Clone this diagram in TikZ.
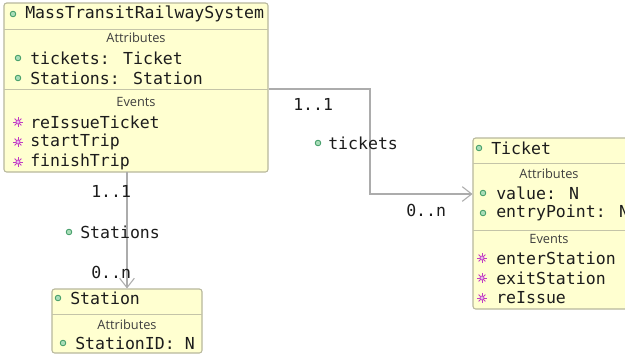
\documentclass[tikz,border=0pt]{standalone}
\usepackage{fontspec}
\setmainfont{DejaVu Sans Mono}
\newfontfamily\secfont{Open Sans}
\usetikzlibrary{fit,arrows.meta}

\definecolor{boxfill}{HTML}{FFFFD0}
\definecolor{boxline}{HTML}{B8B89C}
\definecolor{sepcol}{HTML}{C4C4A8}
\definecolor{dotline}{HTML}{3E9A64}
\definecolor{dotfill}{HTML}{A8DDB8}
\definecolor{evtcol}{HTML}{C23CC2}
\definecolor{assoccol}{HTML}{ACACAC}
\definecolor{txt}{HTML}{1C1C1C}

\tikzset{
  classbox/.style={draw=boxline, fill=boxfill, rounded corners=2pt, inner sep=0pt, line width=0.8pt},
  member/.style={anchor=west, inner sep=0pt, text=txt, font=\fontsize{12.4}{14}\selectfont},
  seclabel/.style={inner sep=0pt, text=txt!85, font=\secfont\fontsize{9.6}{11}\selectfont},
  sepline/.style={draw=sepcol, line width=0.7pt},
  assoc/.style={draw=assoccol, line width=0.8pt, -{Straight Barb[length=7pt,width=11pt]}},
  pics/attrdot/.style={code={\draw[dotline, fill=dotfill, line width=0.6pt] (0,0) circle (2.1pt);}},
  pics/evtmark/.style={code={
    \foreach \a in {0,45,90,135}
      \draw[evtcol, line width=0.7pt] (\a:3.6pt) -- (\a+180:3.6pt);
    \draw[evtcol, fill=evtcol!35, line width=0.5pt] (0,0) circle (1.5pt);}}
}

\begin{document}
\begin{tikzpicture}[x=0.75pt, y=-0.75pt]
\clip (0,0) rectangle (625,354);
\useasboundingbox (0,0) rectangle (625,354);
\fill[white] (0,0) rectangle (625,354);

% ---- MassTransitRailwaySystem ----
\node[classbox, fit={(4,3) (268,172)}] (mtrs) {};
\draw[sepline] (4,29) -- (268,29);
\draw[sepline] (4,89) -- (268,89);
\pic at (13,14) {attrdot};
\node[member] (mtrsname) at (25,14) {MassTransitRailwaySystem};
\node[seclabel] (mtrsattr) at (136,38) {Attributes};
\pic at (18,58) {attrdot};
\node[member] (mtrsa1) at (30,58) {tickets: Ticket};
\pic at (18,78) {attrdot};
\node[member] (mtrsa2) at (30,78) {Stations: Station};
\node[seclabel] (mtrsevt) at (136,102) {Events};
\pic at (18,122) {evtmark};
\node[member] (mtrse1) at (30,122) {reIssueTicket};
\pic at (18,142) {evtmark};
\node[member] (mtrse2) at (30,142) {startTrip};
\pic at (18,162) {evtmark};
\node[member] (mtrse3) at (30,162) {finishTrip};

% ---- Ticket ----
\node[classbox, fit={(473,138) (640,309)}] (ticket) {};
\draw[sepline] (473,163) -- (640,163);
\draw[sepline] (473,230) -- (640,230);
\pic at (479,148) {attrdot};
\node[member] (ticketname) at (491,148) {Ticket};
\node[seclabel] (ticketattr) at (549,174) {Attributes};
\pic at (483,193) {attrdot};
\node[member] (ticketa1) at (496,193) {value: N};
\pic at (483,213) {attrdot};
\node[member] (ticketa2) at (496,213) {entryPoint: N};
\node[seclabel] (ticketevt) at (549,239) {Events};
\pic at (482,258) {evtmark};
\node[member] (tickete1) at (496,258) {enterStation};
\pic at (482,278) {evtmark};
\node[member] (tickete2) at (496,278) {exitStation};
\pic at (482,298) {evtmark};
\node[member] (tickete3) at (496,298) {reIssue};

% ---- Station ----
\node[classbox, fit={(52,289) (202,353)}] (station) {};
\draw[sepline] (52,314) -- (202,314);
\pic at (58,298) {attrdot};
\node[member] (stationname) at (70,298) {Station};
\node[seclabel] (stationattr) at (127,325) {Attributes};
\pic at (63,343) {attrdot};
\node[member] (stationa1) at (75,343) {StationID: N};

% ---- associations ----
\coordinate (bendA) at (370,89);
\coordinate (bendB) at (370,194);
\draw[assoc] (mtrs.east |- bendA) -- (bendA) -- (bendB) -- (ticket.west |- bendB);
\node[member] (tmulsrc) at (293,104) {1..1};
\pic at (318,143) {attrdot};
\node[member] (trole) at (328,143) {tickets};
\node[member] (tmultgt) at (406,210) {0..n};

\coordinate (dropS) at (127,172);
\draw[assoc] (dropS) -- (dropS |- station.north);
\node[member] (smulsrc) at (91,191) {1..1};
\pic at (69,232) {attrdot};
\node[member] (srole) at (80,232) {Stations};
\node[member] (smultgt) at (91,272) {0..n};
\end{tikzpicture}
\end{document}
